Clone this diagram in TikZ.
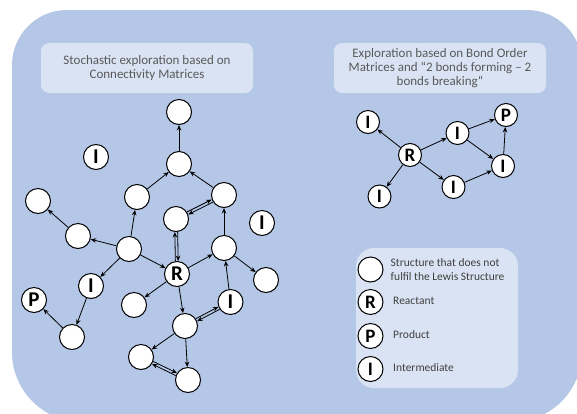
\documentclass[tikz,border=0pt]{standalone}
\usepackage{fontspec}
\setmainfont{Carlito}
\usetikzlibrary{arrows.meta,calc}
\definecolor{bgblue}{HTML}{B4C7E7}
\definecolor{boxblue}{HTML}{DAE3F3}
\definecolor{titlegray}{HTML}{595959}
\definecolor{legtext}{HTML}{404040}
\newcommand\dblarr[2]{%
  \draw[arr,shorten <=13pt,shorten >=13pt] ($(#1.center)!1.4pt!90:(#2.center)$) -- ($(#2.center)!1.4pt!-90:(#1.center)$);
  \draw[arr,shorten <=13pt,shorten >=13pt] ($(#2.center)!1.4pt!90:(#1.center)$) -- ($(#1.center)!1.4pt!-90:(#2.center)$);
}
\begin{document}
\begin{tikzpicture}[x=1pt,y=-1pt,
  st/.style={circle,draw=black,line width=1pt,fill=white,minimum size=25pt,inner sep=0pt,
    font=\fontsize{21}{21}\selectfont\bfseries},
  sts/.style={st,minimum size=23pt,font=\fontsize{19}{19}\selectfont\bfseries},
  stl/.style={st,font=\fontsize{19}{19}\selectfont\bfseries},
  arr/.style={-{Stealth[length=5.5pt,width=4.5pt]},line width=0.8pt},
  titlebox/.style={fill=boxblue,rounded corners=8pt,minimum width=212pt,minimum height=50pt,
    align=center,text=titlegray,inner sep=0pt,font=\fontsize{13}{14}\selectfont},
  legbox/.style={fill=boxblue,rounded corners=18pt,minimum width=162pt,minimum height=140pt,inner sep=0pt},
  legtxt/.style={anchor=west,align=left,text=legtext,inner sep=0pt,font=\fontsize{11.5}{13.5}\selectfont}
]
\useasboundingbox (0,0) rectangle (577,413);
\begin{scope}
  \clip (0,0) rectangle (577,413);
  \fill[bgblue] (12,200) [rounded corners=55pt] -- (12,10) -- (582,10) -- (582,200)
     [rounded corners=70pt] -- (582,422) -- (12,422) -- (12,200) -- cycle;
\end{scope}

% title boxes
\node[titlebox] (t1) at (147,68) {Stochastic exploration based on\\Connectivity Matrices};
\node[titlebox] (t2) at (440,68) {Exploration based on Bond Order\\Matrices and “2 bonds forming – 2\\bonds breaking“};

% left graph
\node[st] (top) at (179,112) {};
\node[st] (below) at (179,164) {};
\node[st] (iso1) at (96,157) {I};
\node[st] (lm) at (137,197) {};
\node[st] (rm) at (224,195) {};
\node[st] (c) at (176,219) {};
\node[st] (fl) at (38,201) {};
\node[st] (c2) at (78,236) {};
\node[st] (hub) at (129,249) {};
\node[st] (R) at (177,274) {R};
\node[st] (c3) at (224,248) {};
\node[st] (iso2) at (262,223) {I};
\node[st] (c4) at (266,280) {};
\node[st] (I1) at (91,286) {I};
\node[st] (P) at (34,300) {P};
\node[st] (c5) at (72,337) {};
\node[st] (c6) at (134,305) {};
\node[st] (I2) at (230.5,302) {I};
\node[st] (c7) at (185,326) {};
\node[st] (c8) at (141,357) {};
\node[st] (c9) at (188,380) {};

\draw[arr] (below) -- (top);
\draw[arr] (lm) -- (below);
\draw[arr] (rm) -- (below);
\draw[arr] (hub) -- (lm);
\draw[arr] (hub) -- (c2);
\draw[arr] (c2) -- (fl);
\draw[arr] (hub) -- (I1);
\draw[arr] (I1) -- (c5);
\draw[arr] (c5) -- (P);
\draw[arr] (hub) -- (R);
\draw[arr] (R) -- (c3);
\draw[arr] (c3) -- (rm);
\draw[arr] (c3) -- (c4);
\draw[arr] (R) -- (c6);
\draw[arr] (R) -- (c7);
\draw[arr] (I2) -- (c3);
\draw[arr] (c7) -- (c8);
\draw[arr] (c7) -- (c9);
\dblarr{I2}{c7}
\dblarr{c}{R}
\dblarr{c}{rm}
\dblarr{c8}{c9}

% right graph
\node[sts] (rI1) at (368,122) {I};
\node[sts] (rR) at (410,155) {R};
\node[sts] (rI2) at (457.5,133) {I};
\node[sts] (rP) at (506,115) {P};
\node[sts] (rI3) at (503,166) {I};
\node[sts] (rI4) at (453.5,187) {I};
\node[sts] (rI5) at (379.5,196.5) {I};
\draw[arr] (rR) -- (rI1);
\draw[arr] (rR) -- (rI2);
\draw[arr] (rR) -- (rI5);
\draw[arr] (rR) -- (rI4);
\draw[arr] (rI2) -- (rP);
\draw[arr] (rI2) -- (rI3);
\draw[arr] (rI4) -- (rI3);
\draw[arr] (rI3) -- (rP);

% legend
\node[legbox] (leg) at (437,318) {};
\node[stl] (lg1) at (370.5,269.5) {};
\node[stl] (lg2) at (370.5,302) {R};
\node[stl] (lg3) at (370.5,336) {P};
\node[stl] (lg4) at (370.5,369) {I};
\node[legtxt] (lt1) at (390.5,269.5) {Structure that does not\\fulfil the Lewis Structure};
\node[legtxt] (lt2) at (393,301) {Reactant};
\node[legtxt] (lt3) at (393,335) {Product};
\node[legtxt] (lt4) at (393,368) {Intermediate};
\end{tikzpicture}
\end{document}
